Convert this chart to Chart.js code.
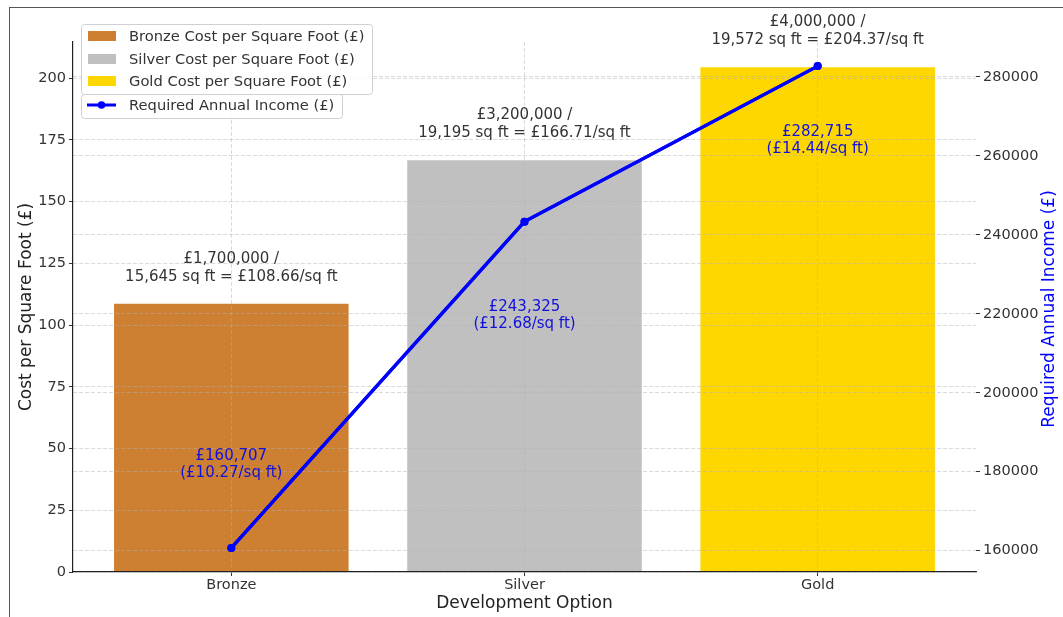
<!DOCTYPE html>
<html><head><meta charset="utf-8">
<script src="https://cdn.jsdelivr.net/npm/chart.js@4.4.1/dist/chart.umd.min.js"></script>
<style>
html,body{margin:0;padding:0;background:#fff;overflow:hidden;}
#wrap{position:relative;width:1063px;height:617px;}
#frame{position:absolute;left:9px;top:7px;width:1100px;height:700px;border-top:1.5px solid #555;border-left:1.5px solid #555;pointer-events:none;}
</style></head><body>
<div id="wrap"><canvas id="c" width="1063" height="617"></canvas><div id="frame"></div></div>
<script>
const categories = ['Bronze', 'Silver', 'Gold'];
const costPerSqFt = [108.66, 166.71, 204.37];
const requiredIncome = [160707, 243325, 282715];
const totalCost = ['£1,700,000', '£3,200,000', '£4,000,000'];
const floorArea = ['15,645', '19,195', '19,572'];
const incomeLabels = ['£160,707', '£243,325', '£282,715'];
const incomePerSqFt = ['£10.27', '£12.68', '£14.44'];
const incomeLabelAt = [43.6, 103.7, 174.8];
const costTicks = [0, 25, 50, 75, 100, 125, 150, 175, 200];
const incomeTicks = [160000, 180000, 200000, 220000, 240000, 260000, 280000];
const barLegend = ['Bronze Cost per Square Foot (£)', 'Silver Cost per Square Foot (£)', 'Gold Cost per Square Foot (£)'];
const lineLegend = 'Required Annual Income (£)';

const barColors = ['#CD7F32', '#C0C0C0', '#FFD700'];
const FAM = '"DejaVu Sans", sans-serif';
const gridColor = 'rgba(176,176,176,0.6)';

const xlo = -0.4, xhi = categories.length - 1 + 0.4, xpad = 0.05 * (xhi - xlo);
const incMin = Math.min(...requiredIncome), incMax = Math.max(...requiredIncome), incPad = 0.05 * (incMax - incMin);

function roundRect(ctx, x, y, w, h, r) {
  ctx.beginPath();
  ctx.moveTo(x + r, y); ctx.lineTo(x + w - r, y); ctx.arcTo(x + w, y, x + w, y + r, r);
  ctx.lineTo(x + w, y + h - r); ctx.arcTo(x + w, y + h, x + w - r, y + h, r);
  ctx.lineTo(x + r, y + h); ctx.arcTo(x, y + h, x, y + h - r, r);
  ctx.lineTo(x, y + r); ctx.arcTo(x, y, x + r, y, r); ctx.closePath();
}

const annot = {
  id: 'annot',
  afterDraw(chart) {
    const ctx = chart.ctx, xs = chart.scales.x, ys = chart.scales.y, area = chart.chartArea;
    // keep the income line above the grid (as in the reference)
    chart.getDatasetMeta(0).controller.draw();
    ctx.save();
    ctx.font = '15px ' + FAM;
    ctx.textAlign = 'center'; ctx.textBaseline = 'middle';
    categories.forEach((c, i) => {
      const px = xs.getPixelForValue(i);
      const top = ys.getPixelForValue(costPerSqFt[i]);
      ctx.fillStyle = '#333';
      ctx.fillText(totalCost[i] + ' /', px, top - 45);
      ctx.fillText(floorArea[i] + ' sq ft = £' + costPerSqFt[i].toFixed(2) + '/sq ft', px, top - 27);
      const ly = ys.getPixelForValue(incomeLabelAt[i]);
      ctx.fillStyle = '#1010dd';
      ctx.fillText(incomeLabels[i], px, ly - 8.5);
      ctx.fillText('(' + incomePerSqFt[i] + '/sq ft)', px, ly + 8.5);
    });
    // right axis title
    ctx.save();
    ctx.translate(1050, (area.top + area.bottom) / 2 + 2);
    ctx.rotate(-Math.PI / 2);
    ctx.font = '17px ' + FAM;
    ctx.fillStyle = '#0000ff';
    ctx.fillText(lineLegend, 0, 0);
    ctx.restore();
    // legend
    const barDs = chart.data.datasets[1], lineDs = chart.data.datasets[0];
    ctx.lineWidth = 1; ctx.strokeStyle = '#d0d0d0'; ctx.fillStyle = 'rgba(255,255,255,0.85)';
    roundRect(ctx, 81.5, 24.5, 291, 70, 3); ctx.fill(); ctx.stroke();
    ctx.fillStyle = 'rgba(255,255,255,0.85)';
    roundRect(ctx, 81.5, 94.5, 261, 24, 3); ctx.fill(); ctx.stroke();
    ctx.textAlign = 'left';
    ctx.font = '14.7px ' + FAM;
    const rows = [36, 59, 81];
    barLegend.forEach((t, i) => {
      ctx.fillStyle = barDs.backgroundColor[i];
      ctx.fillRect(88, rows[i] - 5, 28, 10);
      ctx.fillStyle = '#333';
      ctx.fillText(t, 129, rows[i] + 1);
    });
    ctx.strokeStyle = lineDs.borderColor; ctx.lineWidth = 3;
    ctx.beginPath(); ctx.moveTo(87, 105); ctx.lineTo(116, 105); ctx.stroke();
    ctx.fillStyle = lineDs.borderColor;
    ctx.beginPath(); ctx.arc(101.5, 105, 3.8, 0, Math.PI * 2); ctx.fill();
    ctx.fillStyle = '#333';
    ctx.fillText(lineDs.label, 129, 106);
    ctx.restore();
  }
};

const commonGrid = { color: gridColor, lineWidth: 0.8, z: 1, tickLength: 4, tickColor: '#333', tickWidth: 1, offset: false };
const tickFont = { family: FAM, size: 14.5 };

new Chart(document.getElementById('c'), {
  data: {
    datasets: [
      {
        type: 'line', label: lineLegend,
        data: categories.map((c, i) => ({ x: i, y: requiredIncome[i] })),
        xAxisID: 'x', yAxisID: 'y1',
        borderColor: '#0000ff', backgroundColor: '#0000ff', borderWidth: 3.2,
        pointRadius: 4, pointBackgroundColor: '#0000ff', pointBorderWidth: 0,
        tension: 0, order: 0
      },
      {
        type: 'bar', label: 'Cost per Square Foot (£)',
        data: categories.map((c, i) => ({ x: i, y: costPerSqFt[i] })),
        xAxisID: 'x', yAxisID: 'y',
        backgroundColor: barColors, borderWidth: 0,
        categoryPercentage: 1.0, barPercentage: 0.8, order: 1
      }
    ]
  },
  options: {
    responsive: false, animation: false, devicePixelRatio: 1,
    layout: { padding: { top: 42, left: 0, right: 0, bottom: 0 } },
    plugins: { legend: { display: false }, tooltip: { enabled: false } },
    scales: {
      x: {
        type: 'linear', position: 'bottom', offset: false, min: xlo - xpad, max: xhi + xpad,
        afterBuildTicks: s => { s.ticks = categories.map((c, i) => ({ value: i })); },
        afterFit: s => { s.height = 45; },
        ticks: { callback: v => categories[v], font: tickFont, color: '#333', padding: 1, maxRotation: 0, autoSkip: false },
        grid: commonGrid,
        border: { display: true, color: '#222', width: 1.2, dash: [4, 2], z: 1 },
        title: { display: true, text: 'Development Option', font: { family: FAM, size: 17 }, color: '#222', padding: { top: 0, bottom: 3 } }
      },
      y: {
        type: 'linear', position: 'left', min: 0, max: Math.max(...costPerSqFt) * 1.05,
        afterBuildTicks: s => { s.ticks = costTicks.map(v => ({ value: v })); },
        afterFit: s => { s.width = 73; },
        ticks: { font: tickFont, color: '#333', padding: 3 },
        grid: commonGrid,
        border: { display: true, color: '#222', width: 1.2, dash: [4, 2], z: 1 },
        title: { display: true, text: 'Cost per Square Foot (£)', font: { family: FAM, size: 17 }, color: '#222', padding: { top: 16, bottom: 0 } }
      },
      y1: {
        type: 'linear', position: 'right', min: incMin - incPad, max: incMax + incPad,
        afterBuildTicks: s => { s.ticks = incomeTicks.map(v => ({ value: v })); },
        afterFit: s => { s.width = 87; },
        ticks: { font: tickFont, color: '#333', padding: 3, callback: v => String(v) },
        grid: commonGrid,
        border: { display: false, dash: [4, 2] },
        title: { display: false }
      }
    }
  },
  plugins: [annot]
});
</script>
</body></html>
